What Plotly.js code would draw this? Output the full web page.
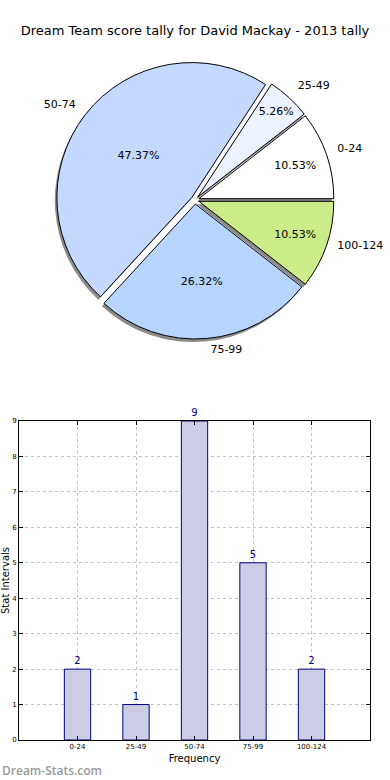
<!DOCTYPE html>
<html>
<head>
<meta charset="utf-8">
<script src="https://cdn.plot.ly/plotly-3.0.1.min.js"></script>
<style>html,body{margin:0;padding:0;background:#fff;}#chart{width:390px;height:780px;}</style>
</head>
<body>
<div id="chart"></div>
<script>
var categories = ["0-24", "25-49", "50-74", "75-99", "100-124"];
var counts = [2, 1, 9, 5, 2];
var pieColors = ["#ffffff", "#ecf2ff", "#c5d8ff", "#b5d5ff", "#ccec8a"];
var yTicks = [0, 1, 2, 3, 4, 5, 6, 7, 8, 9];
var titleText = "Dream Team score tally for David Mackay - 2013 tally";

var W = 390, H = 780;
var total = counts.reduce(function(a, b){return a + b;}, 0);
// Plotly (counterclockwise) ends the first slice at the rotation angle; matplotlib starts it at 3 o'clock
var rot = 90 - 360 * counts[0] / total;
var cx = 195, cy = 200, half = 139;
function dom(dx, dy, h) {
  h = h || half;
  return {
    x: [(cx - h + dx) / W, (cx + h + dx) / W],
    y: [1 - (cy + h + dy) / H, 1 - (cy - h + dy) / H]
  };
}
var pulls = [0.03, 0.03, 0.03, 0.03, 0.03];

var shadow = {
  type: 'pie', labels: categories, values: counts, sort: false,
  direction: 'counterclockwise', rotation: rot, pull: pulls,
  marker: {colors: categories.map(function(){return 'rgba(90,90,90,0.7)';}), line: {width: 0}},
  textinfo: 'none', hoverinfo: 'skip', showlegend: false, domain: dom(-2, 3)
};
var main = {
  type: 'pie', labels: categories, values: counts, sort: false,
  direction: 'counterclockwise', rotation: rot, pull: pulls,
  marker: {colors: pieColors, line: {color: '#000000', width: 1}},
  textinfo: 'percent', texttemplate: '%{percent:.2%}', textposition: 'inside',
  insidetextorientation: 'horizontal',
  textfont: {family: 'DejaVu Sans', size: 11, color: '#000'},
  hoverinfo: 'skip', showlegend: false, domain: dom(0, 0)
};
var outer = {
  type: 'pie', labels: categories, values: counts, sort: false,
  direction: 'counterclockwise', rotation: rot, pull: pulls,
  marker: {colors: categories.map(function(){return 'rgba(0,0,0,0)';}), line: {width: 0}},
  textinfo: 'label', textposition: 'outside',
  textfont: {family: 'DejaVu Sans', size: 11, color: '#000'},
  hoverinfo: 'skip', showlegend: false, domain: dom(0, -3, half + 8)
};
var bars = {
  type: 'bar', x: categories, y: counts, width: 0.45,
  marker: {color: '#cccce4', line: {color: '#000080', width: 1}},
  text: counts.map(String), textposition: 'outside', cliponaxis: false,
  textfont: {family: 'DejaVu Sans', size: 10, color: '#000080'},
  hoverinfo: 'skip', showlegend: false, xaxis: 'x', yaxis: 'y'
};

var layout = {
  width: W, height: H, margin: {l: 0, r: 0, t: 0, b: 0},
  paper_bgcolor: '#fff', plot_bgcolor: '#fff',
  font: {family: 'DejaVu Sans', color: '#000'},
  title: {text: titleText, font: {family: 'DejaVu Sans', size: 13, color: '#000'}, x: 0.5, xanchor: 'center', y: 1 - 30 / H, yanchor: 'middle'},
  xaxis: {
    domain: [19 / W, 370 / W], anchor: 'y', type: 'category', range: [-1, 5],
    showline: true, linecolor: '#000', linewidth: 1, mirror: 'ticks',
    ticks: 'inside', ticklen: 4, tickcolor: '#000',
    showgrid: true, gridcolor: '#c4c4c4', griddash: 'dot', gridwidth: 1,
    tickfont: {family: 'DejaVu Sans', size: 7, color: '#000'},
    title: {text: 'Frequency', font: {family: 'DejaVu Sans', size: 10, color: '#000'}, standoff: 4},
    fixedrange: true
  },
  yaxis: {
    domain: [1 - 740 / H, 1 - 421 / H], anchor: 'x', range: [0, 9],
    tickvals: yTicks, ticktext: yTicks.map(String),
    showline: true, linecolor: '#000', linewidth: 1, mirror: 'ticks',
    ticks: 'inside', ticklen: 4, tickcolor: '#000', zeroline: false,
    showgrid: true, gridcolor: '#c4c4c4', griddash: 'dot', gridwidth: 1,
    tickfont: {family: 'DejaVu Sans', size: 7, color: '#000'},
    title: {text: 'Stat Intervals', font: {family: 'DejaVu Sans', size: 10, color: '#000'}, standoff: 2},
    fixedrange: true
  },
  annotations: [{
    text: 'Dream-Stats.com', xref: 'paper', yref: 'paper', x: 0, y: 1 - 770 / H,
    xanchor: 'left', yanchor: 'middle', showarrow: false,
    font: {family: 'Open Sans', size: 12, color: '#999999', weight: 600}
  }]
};

Plotly.newPlot('chart', [shadow, main, outer, bars], layout, {staticPlot: true, displayModeBar: false});
</script>
</body>
</html>
